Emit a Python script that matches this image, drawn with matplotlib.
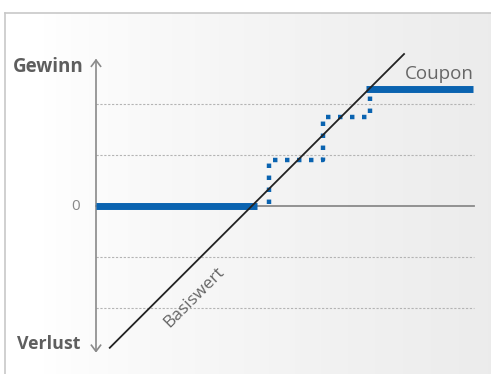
import numpy as np
import matplotlib
matplotlib.use("Agg")
import matplotlib.pyplot as plt

# ---- data (units: one grid step = 1) ----
grid_levels = [-2, -1, 1, 2]
base_x = [0.27, 6.04]            # Basiswert diagonal
base_y = [-2.78, 2.98]
floor_x = [0.0, 3.16]            # blue line at zero
floor_y = [0.0, 0.0]
cap_x = [5.29, 7.39]             # blue Coupon line
cap_y = [2.29, 2.29]
step_x = [3.39, 3.39, 4.45, 4.45, 5.37, 5.37]
step_y = [0.03, 0.90, 0.90, 1.75, 1.75, 2.16]
zero_x = [0.0, 7.41]
axis_top, axis_bottom = 2.86, -2.85

PX = 51.0
W, H = 491, 374
X0, Y0 = 96, 206

fig = plt.figure(figsize=(W / 100, H / 100), dpi=100)
ax = fig.add_axes([0, 0, 1, 1])
ax.axis("off")

def px2x(p):
    return (p - X0) / PX

def py2y(p):
    return (Y0 - p) / PX

# background gradient frame
grad = np.linspace(0, 1, 256)
col = 1.0 - 0.075 * np.clip((grad - 0.08) / 0.92, 0, 1) ** 0.8
img = np.dstack([col, col, col]).repeat(2, axis=0)
ax.imshow(img, extent=[px2x(5), px2x(W + 2), py2y(H + 2), py2y(13)],
          aspect="auto", zorder=0, interpolation="bilinear")
ax.plot([px2x(5), px2x(5)], [py2y(13), py2y(H + 2)], color="#c8c8c8", lw=1.2, zorder=1)
ax.plot([px2x(5), px2x(W + 2)], [py2y(13), py2y(13)], color="#c8c8c8", lw=1.2, zorder=1)

# grid lines
for g in grid_levels:
    ax.plot(zero_x, [g, g], color="#b4b4b4", lw=0.8, ls=(0, (2, 1.5)), zorder=2)

# zero line
ax.plot(zero_x, [0, 0], color="#8a8a8a", lw=1.3, zorder=2)

# y axis with arrows
ax.plot([0, 0], [axis_bottom, axis_top], color="#8a8a8a", lw=1.2, zorder=2)
for yt, d in [(axis_top, -1), (axis_bottom, 1)]:
    ax.plot([-0.09, 0, 0.09], [yt + d * 0.12, yt, yt + d * 0.12],
            color="#8a8a8a", lw=1.2, zorder=2, solid_joinstyle="miter")

# blue lines
ax.plot(floor_x, floor_y, color="#0a63b0", lw=5, solid_capstyle="butt", zorder=4)
ax.plot(cap_x, cap_y, color="#0a63b0", lw=5, solid_capstyle="butt", zorder=4)
ax.plot(step_x, step_y, color="#0a63b0", lw=3.2, ls=(0, (1, 1.7)),
        dash_capstyle="butt", zorder=4)

# diagonal
ax.plot(base_x, base_y, color="#222222", lw=1.3, zorder=5)

txt = "#666666"
ax.text(px2x(13), py2y(67), "Gewinn", fontsize=13.5, fontweight="bold",
        family="Open Sans", color="#5e5e5e", ha="left", va="center")
ax.text(px2x(17), py2y(344), "Verlust", fontsize=12.8, fontweight="bold",
        family="Open Sans", color="#5e5e5e", ha="left", va="center")
ax.text(px2x(80), 0, "0", fontsize=11, family="Open Sans", color="#888888",
        ha="right", va="center")
ax.text(px2x(474), py2y(74), "Coupon", fontsize=13.5, family="Open Sans",
        color=txt, ha="right", va="center")
ax.text(px2x(194), py2y(297), "Basiswert", fontsize=12.5, family="Open Sans",
        color=txt, ha="center", va="center", rotation=45, rotation_mode="anchor")

ax.set_xlim(-X0 / PX, (W - X0) / PX)
ax.set_ylim(-(H - Y0) / PX, Y0 / PX)

fig.savefig("out.png", dpi=100)
